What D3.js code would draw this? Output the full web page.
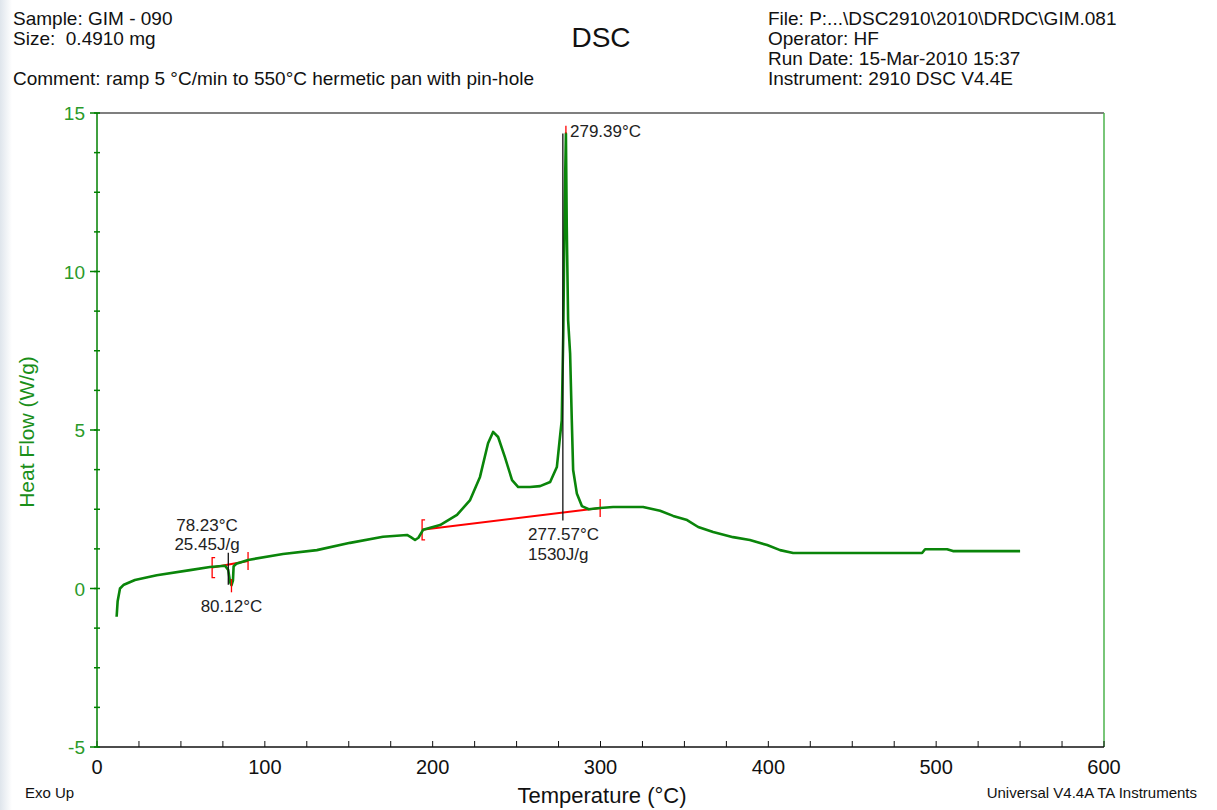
<!DOCTYPE html>
<html>
<head>
<meta charset="utf-8">
<script src="https://cdn.jsdelivr.net/npm/d3@7"></script>
<style>
  html, body { margin: 0; padding: 0; background: #fff; }
  svg { display: block; font-family: "Liberation Sans", Arial, sans-serif; }
  text { white-space: pre; }
</style>
</head>
<body>
<svg id="chart" width="1217" height="810"></svg>
<script>
// DSC thermogram: temperature (°C) vs heat flow (W/g)
const temperature = [11.7, 12.3, 13.7, 16, 22.6, 35.6, 55.4, 67.3, 76.3, 78.2, 79.3, 80.12, 81, 81.4, 83, 90,
  110.8, 131, 150.8, 170.4, 184.7, 187, 189.5, 191.5, 194.3, 204.4, 214.5, 222.3, 228.2, 233, 236, 239,
  243, 247.3, 251, 258, 264, 270, 274, 275.5, 276.9, 277.8, 278.7, 279.39, 279.9, 280.7, 281.9, 282.9,
  283.7, 285.9, 288.9, 293, 299.8, 307.5, 325.4, 335.5, 343.3, 351.6, 358.2, 367.1, 379, 389, 399.3,
  407, 414.8, 438.6, 491.6, 493.4, 506.5, 510, 550];
const heatFlow = [-0.89, -0.4, 0.0, 0.12, 0.27, 0.42, 0.58, 0.68, 0.72, 0.58, 0.2, 0.1, 0.25, 0.7, 0.78, 0.9,
  1.09, 1.21, 1.44, 1.63, 1.69, 1.62, 1.53, 1.6, 1.85, 2.0, 2.32, 2.79, 3.52, 4.58, 4.94, 4.78,
  4.15, 3.42, 3.2, 3.2, 3.23, 3.36, 3.83, 4.6, 5.3, 8.0, 12.2, 14.35, 11.4, 8.47, 7.4, 5.3,
  3.74, 3.0, 2.6, 2.5, 2.54, 2.57, 2.57, 2.45, 2.29, 2.16, 1.94, 1.78, 1.62, 1.53, 1.37,
  1.21, 1.12, 1.12, 1.12, 1.24, 1.24, 1.18, 1.18];

// integration baselines [startT, startHF, endT, endHF]
const baselineA = [68.6, 0.66, 90, 0.87];
const baselineB = [193.7, 1.85, 299.8, 2.54];

// annotations
const onsetA = 78.23, peakA = 80.12, enthalpyA = "25.45J/g";
const onsetB = 277.57, peakB = 279.39, enthalpyB = "1530J/g";

const xTicks = [0, 100, 200, 300, 400, 500, 600];
const yTicks = [-5, 0, 5, 10, 15];

const headerLeft = ["Sample: GIM - 090", "Size:  0.4910 mg"];
const commentText = "Comment: ramp 5 °C/min to 550°C hermetic pan with pin-hole";
const headerRight = ["File: P:...\\DSC2910\\2010\\DRDC\\GIM.081", "Operator: HF",
  "Run Date: 15-Mar-2010 15:37", "Instrument: 2910 DSC V4.4E"];

const svg = d3.select("#chart");
const plotL = 97, plotR = 1104, plotT = 113, plotB = 747;
const x = d3.scaleLinear().domain([0, 600]).range([plotL, plotR]);
const y = d3.scaleLinear().domain([-5, 15]).range([plotB, plotT]);

const green = "#008000", red = "#ff0000";

// soft left page edge
const grad = svg.append("defs").append("linearGradient").attr("id", "edge");
grad.append("stop").attr("offset", "0%").attr("stop-color", "#dfe5ec");
grad.append("stop").attr("offset", "100%").attr("stop-color", "#ffffff");
svg.append("rect").attr("x", 0).attr("y", 0).attr("width", 12).attr("height", 810).attr("fill", "url(#edge)");

// header
const hdr = svg.append("g").attr("font-size", 19).attr("fill", "#111");
headerLeft.forEach((t, i) => hdr.append("text").attr("x", 13).attr("y", 25 + i * 20).text(t));
hdr.append("text").attr("x", 13).attr("y", 85).text(commentText);
headerRight.forEach((t, i) => hdr.append("text").attr("x", 768).attr("y", 25 + i * 20).text(t));
svg.append("text").attr("x", 601).attr("y", 47).attr("text-anchor", "middle")
  .attr("font-size", 28).attr("fill", "#111").text("DSC");

// frame
svg.append("line").attr("x1", plotL).attr("x2", plotR).attr("y1", plotT).attr("y2", plotT)
  .attr("stroke", "#555").attr("stroke-width", 1.5);
svg.append("line").attr("x1", plotR).attr("x2", plotR).attr("y1", plotT).attr("y2", plotB)
  .attr("stroke", "#4cb34c").attr("stroke-width", 1.5);

// x axis
const xMinor = d3.range(0, 601, 25);
const gx = svg.append("g");
gx.selectAll("line.mt").data(xMinor).join("line")
  .attr("x1", d => x(d)).attr("x2", d => x(d)).attr("y1", plotB).attr("y2", plotB - 6)
  .attr("stroke", "#111").attr("stroke-width", 1);
gx.append("line").attr("x1", plotL).attr("x2", plotR).attr("y1", plotB).attr("y2", plotB)
  .attr("stroke", "#111").attr("stroke-width", 1.5);
gx.selectAll("text").data(xTicks).join("text")
  .attr("x", d => x(d)).attr("y", 774).attr("text-anchor", "middle")
  .attr("font-size", 20).attr("fill", "#111").text(d => d);

// y axis
const yMinor = d3.range(-5, 15.01, 1.25);
const gy = svg.append("g");
gy.selectAll("line.mt").data(yMinor).join("line")
  .attr("x1", plotL - 3).attr("x2", plotL + 3).attr("y1", d => y(d)).attr("y2", d => y(d))
  .attr("stroke", green).attr("stroke-width", 1.5);
gy.selectAll("line.Mt").data(yTicks).join("line")
  .attr("x1", plotL - 7).attr("x2", plotL).attr("y1", d => y(d)).attr("y2", d => y(d))
  .attr("stroke", green).attr("stroke-width", 1.5);
gy.append("line").attr("x1", plotL).attr("x2", plotR === 0 ? 0 : plotL).attr("y1", plotT).attr("y2", plotB)
  .attr("stroke", green).attr("stroke-width", 1.5);
gy.selectAll("text").data(yTicks).join("text")
  .attr("x", 85).attr("y", d => y(d) + 7).attr("text-anchor", "end")
  .attr("font-size", 19).attr("fill", "#2a9a2a").text(d => d);

// axis titles
svg.append("text").attr("transform", "translate(34,432) rotate(-90)").attr("text-anchor", "middle")
  .attr("font-size", 21).attr("fill", "#1a8f1a").text("Heat Flow (W/g)");
svg.append("text").attr("x", 602).attr("y", 803).attr("text-anchor", "middle")
  .attr("font-size", 22).attr("fill", "#111").text("Temperature (°C)");
svg.append("text").attr("x", 25).attr("y", 798).attr("font-size", 15).attr("fill", "#111").text("Exo Up");
svg.append("text").attr("x", 1197).attr("y", 798).attr("text-anchor", "end")
  .attr("font-size", 15).attr("fill", "#111").text("Universal V4.4A TA Instruments");

// baselines
function baseline(b) {
  svg.append("line").attr("x1", x(b[0])).attr("y1", y(b[1])).attr("x2", x(b[2])).attr("y2", y(b[3]))
    .attr("stroke", red).attr("stroke-width", 2);
  const lx = x(b[0]), ly = y(b[1]);
  svg.append("path").attr("d", `M${lx + 3},${ly - 10} H${lx} V${ly + 10} H${lx + 3}`)
    .attr("fill", "none").attr("stroke", red).attr("stroke-width", 1.3);
  const rx = x(b[2]), ry = y(b[3]);
  svg.append("line").attr("x1", rx).attr("x2", rx).attr("y1", ry - 9).attr("y2", ry + 9)
    .attr("stroke", red).attr("stroke-width", 1.3);
}
baseline(baselineA);
baseline(baselineB);

// curve
const pts = temperature.map((t, i) => [t, heatFlow[i]]);
svg.append("path").datum(pts)
  .attr("d", d3.line().x(d => x(d[0])).y(d => y(d[1])))
  .attr("fill", "none").attr("stroke", "#0a850a").attr("stroke-width", 2.6)
  .attr("stroke-linejoin", "round");

// event markers
const baseAt = (b, t) => b[1] + (b[3] - b[1]) * (t - b[0]) / (b[2] - b[0]);
svg.append("line").attr("x1", x(onsetA)).attr("x2", x(onsetA)).attr("y1", y(1.13)).attr("y2", y(0.12))
  .attr("stroke", "#111").attr("stroke-width", 1.3);
svg.append("line").attr("x1", x(peakA)).attr("x2", x(peakA)).attr("y1", y(0.3)).attr("y2", y(-0.12))
  .attr("stroke", red).attr("stroke-width", 1.3);
svg.append("line").attr("x1", x(onsetB)).attr("x2", x(onsetB))
  .attr("y1", y(baseAt(baselineB, onsetB) - 0.25)).attr("y2", y(14.35))
  .attr("stroke", "#111").attr("stroke-width", 1.3);
svg.append("line").attr("x1", x(peakB)).attr("x2", x(peakB)).attr("y1", y(14.35)).attr("y2", y(14.6))
  .attr("stroke", red).attr("stroke-width", 1.3);

// annotation labels
const ann = svg.append("g").attr("font-size", 17).attr("fill", "#222");
ann.append("text").attr("x", 207).attr("y", 531).attr("text-anchor", "middle").text(onsetA.toFixed(2) + "°C");
ann.append("text").attr("x", 207).attr("y", 550).attr("text-anchor", "middle").text(enthalpyA);
ann.append("text").attr("x", x(peakA)).attr("y", 612).attr("text-anchor", "middle").text(peakA.toFixed(2) + "°C");
ann.append("text").attr("x", 528).attr("y", 540).text(onsetB.toFixed(2) + "°C");
ann.append("text").attr("x", 528).attr("y", 560).text(enthalpyB);
ann.append("text").attr("x", 570).attr("y", 137).text(peakB.toFixed(2) + "°C");
</script>
</body>
</html>
